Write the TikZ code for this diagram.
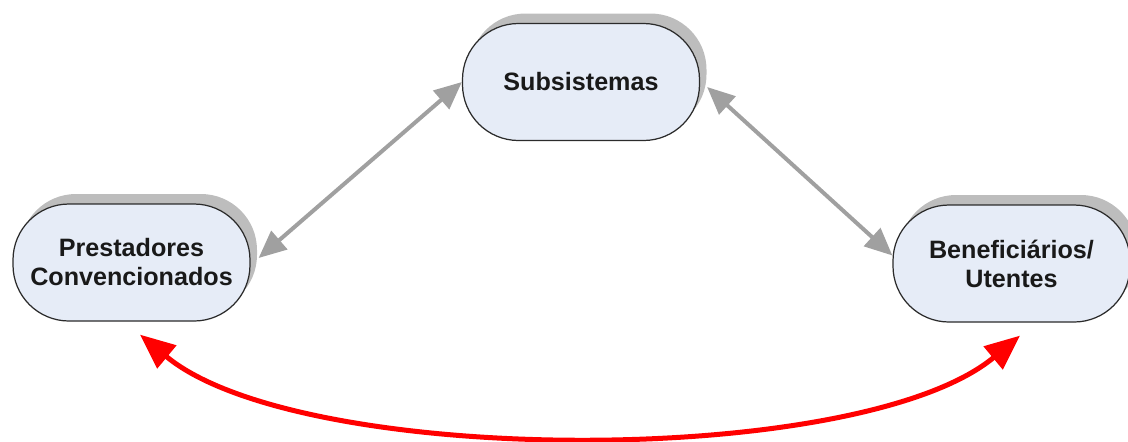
\documentclass[tikz,border=0pt]{standalone}
\usepackage{fontspec}
\usepackage{tikz}
\usetikzlibrary{arrows.meta,shadows}
\newfontfamily\arialfont{Liberation Sans}
\definecolor{nodefill}{HTML}{E6ECF7}
\definecolor{nodeline}{HTML}{2B2B2B}
\definecolor{shade}{HTML}{BDBDBD}
\definecolor{link}{HTML}{A0A0A0}
\definecolor{flow}{HTML}{FF0000}

\begin{document}
\begin{tikzpicture}[
  entity/.style={draw=nodeline, line width=0.7pt, rounded corners=1.12cm, fill=nodefill,
    minimum width=4.74cm, minimum height=2.34cm, align=center, text=black!90,
    font=\arialfont\bfseries\fontsize{14.3}{16.5}\selectfont,
    drop shadow={shadow xshift=0.14cm, shadow yshift=0.2cm, fill=shade, opacity=1}},
  grayarrow/.style={{Triangle[length=0.55cm,width=0.48cm]}-{Triangle[length=0.55cm,width=0.48cm]}, line width=0.08cm, link},
  redarrow/.style={{Triangle[length=0.7cm,width=0.58cm]}-{Triangle[length=0.7cm,width=0.58cm]}, line width=0.1cm, flow}
]
  \useasboundingbox (0,0) rectangle (22.56,-8.82);

  % the three parties
  \node[entity] (sub) at (11.62,-1.64) {Subsistemas};
  \node[entity] (prest) at (2.63,-5.25) {Prestadores\\Convencionados};
  \node[entity] (ben) at (20.23,-5.27) {Beneficiários/\\Utentes};

  % links to the subsystems
  \draw[grayarrow] ([shift={(0.16,0.09)}]prest.east) -- (sub.west);
  \draw[grayarrow] ([shift={(0.14,-0.1)}]sub.east) -- ([yshift=0.16cm]ben.west);

  % direct link
  \draw[redarrow] ([shift={(0.17,-0.26)}]prest.south) .. controls +(3.2,-2.66) and +(-3.2,-2.66) .. ([shift={(0.17,-0.26)}]ben.south);
\end{tikzpicture}
\end{document}
